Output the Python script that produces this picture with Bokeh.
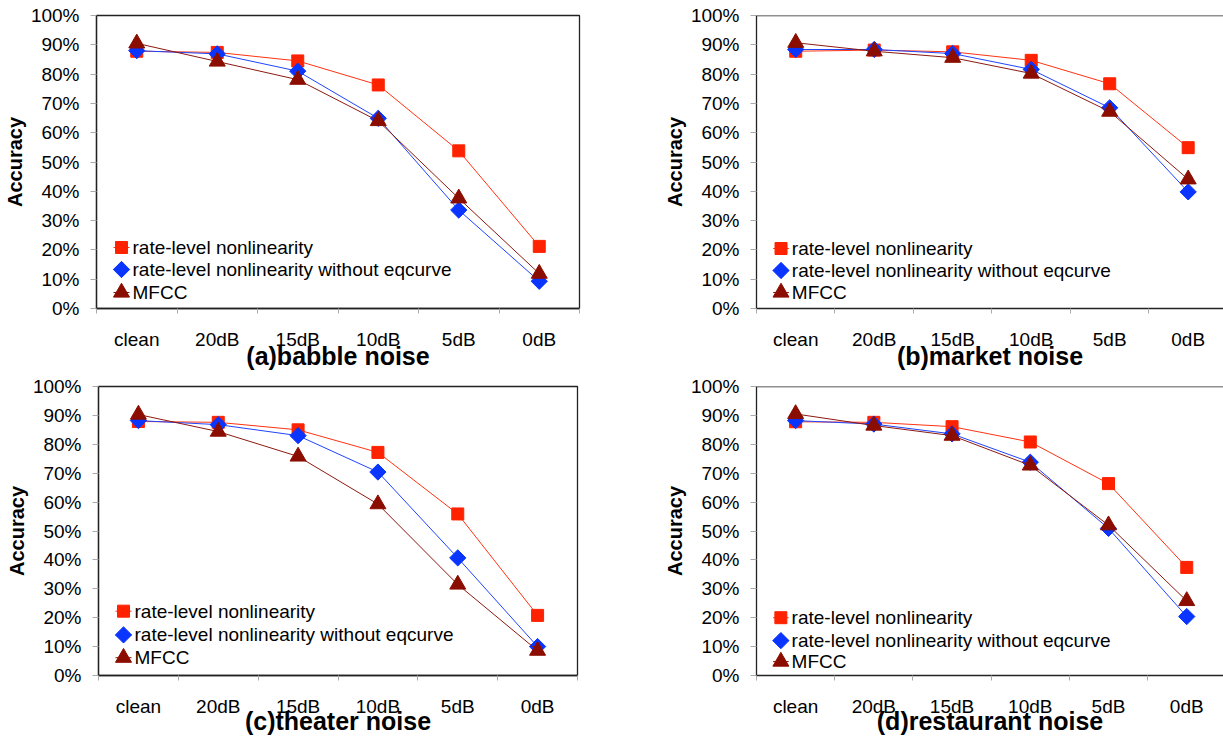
import numpy as np
from bokeh.plotting import figure
from bokeh.layouts import column, row
from bokeh.models import Range1d, FixedTicker, CustomJSTickFormatter, PrintfTickFormatter, Span
from bokeh.core.properties import value
from bokeh.embed import file_html
from bokeh.resources import INLINE

# ---- data (recognition accuracy, %) ----
conditions = ["clean", "20dB", "15dB", "10dB", "5dB", "0dB"]
series_names = ["rate-level nonlinearity",
                "rate-level nonlinearity without eqcurve",
                "MFCC"]
y_ticks = list(range(0, 101, 10))

babble_rln = [87.8, 87.4, 84.5, 76.3, 53.8, 21.2]
babble_noeq = [88.0, 86.9, 81.0, 64.9, 33.6, 9.3]
babble_mfcc = [90.5, 84.3, 78.1, 64.0, 37.6, 11.9]

market_rln = [87.8, 88.2, 87.6, 84.7, 76.7, 54.9]
market_noeq = [88.4, 88.4, 87.0, 81.6, 68.5, 39.8]
market_mfcc = [90.7, 87.8, 85.6, 80.2, 67.2, 44.1]

theater_rln = [87.9, 87.6, 85.0, 77.2, 55.9, 20.8]
theater_noeq = [88.2, 86.8, 83.0, 70.4, 40.7, 10.0]
theater_mfcc = [90.3, 84.4, 75.8, 59.3, 31.5, 8.6]

restaurant_rln = [87.8, 87.6, 86.1, 80.8, 66.4, 37.4]
restaurant_noeq = [88.2, 87.0, 83.6, 73.8, 50.9, 20.4]
restaurant_mfcc = [90.5, 86.5, 83.0, 72.7, 52.0, 25.8]

titles = ["(a)babble noise", "(b)market noise", "(c)theater noise", "(d)restaurant noise"]
panel_data = [
    [babble_rln, babble_noeq, babble_mfcc],
    [market_rln, market_noeq, market_mfcc],
    [theater_rln, theater_noeq, theater_mfcc],
    [restaurant_rln, restaurant_noeq, restaurant_mfcc],
]

# ---- styling ----
FONT = "Liberation Sans"
TEXT_SIZE = "19px"
LINE_COLORS = ["#ff3311", "#1f45ff", "#8b1a10"]
FILL_COLORS = ["#ff2200", "#0a35ff", "#8b0d00"]
MARKERS = [dict(marker="square", size=12, angle=0.0),
           dict(marker="square", size=11.5, angle=np.pi / 4),
           dict(marker="triangle", size=16, angle=0.0)]

# per panel: width, height, borders (l, r, t, b), visible x extent,
# legend rows (px above the frame bottom) and caption standoff
geometry = [
    dict(w=660, h=372, l=96, r=81, t=15, b=64, x_end=6.0, rows=[61, 39, 16], cap=-11),
    dict(w=563, h=372, l=87, r=0, t=15, b=64, x_end=5.95, rows=[60, 38, 16], cap=-11),
    dict(w=660, h=366, l=98, r=83, t=11, b=63, x_end=6.0, rows=[65, 41, 18], cap=-13),
    dict(w=563, h=366, l=84, r=0, t=14, b=62, x_end=5.97, rows=[58, 35, 14], cap=-13),
]

xs = [i + 0.5 for i in range(len(conditions))]


def make_panel(title, data, g, closed_right):
    fw = g["w"] - g["l"] - g["r"]
    fh = g["h"] - g["t"] - g["b"]
    px_x = fw / g["x_end"]      # pixels per category
    px_y = fh / 100.0           # pixels per percent

    p = figure(width=g["w"], height=g["h"], output_backend="svg", toolbar_location=None,
               x_range=Range1d(0, g["x_end"]), y_range=Range1d(0, 100),
               min_border_left=g["l"], min_border_right=g["r"],
               min_border_top=g["t"], min_border_bottom=g["b"],
               background_fill_color="white", border_fill_color="white")
    p.grid.visible = False
    if closed_right:
        p.outline_line_color = "#222222"
        p.outline_line_width = 1.3
    else:
        p.outline_line_color = None
        p.add_layout(Span(location=100, dimension="width", line_color="#222222", line_width=1.3))

    # x axis: labels at category centres, ticks on the boundaries, caption as axis label
    bounds = [i for i in range(len(conditions) + 1) if i <= g["x_end"]]
    p.xaxis.ticker = FixedTicker(ticks=xs, minor_ticks=bounds)
    p.xaxis.formatter = CustomJSTickFormatter(args=dict(labels=conditions),
                                              code="return labels[Math.floor(tick)]")
    p.xaxis.major_tick_out = 0
    p.xaxis.major_tick_in = 0
    p.xaxis.minor_tick_out = 5
    p.xaxis.minor_tick_in = 0
    p.xaxis.minor_tick_line_color = "#aaaaaa"
    p.xaxis.axis_line_color = "#222222"
    p.xaxis.axis_line_width = 1.3
    p.xaxis.major_label_standoff = 15
    p.xaxis.major_label_text_font = FONT
    p.xaxis.major_label_text_font_size = TEXT_SIZE
    p.xaxis.major_label_text_color = "black"
    p.xaxis.axis_label = title
    p.xaxis.axis_label_text_font = FONT
    p.xaxis.axis_label_text_font_size = "25px"
    p.xaxis.axis_label_text_font_style = "bold"
    p.xaxis.axis_label_text_color = "black"
    p.xaxis.axis_label_standoff = g["cap"]

    # y axis
    p.yaxis.ticker = FixedTicker(ticks=y_ticks, minor_ticks=[])
    p.yaxis.formatter = PrintfTickFormatter(format="%d%%")
    p.yaxis.major_tick_out = 6
    p.yaxis.major_tick_in = 0
    p.yaxis.major_tick_line_color = "#aaaaaa"
    p.yaxis.minor_tick_line_color = None
    p.yaxis.axis_line_color = "#222222"
    p.yaxis.axis_line_width = 1.3
    p.yaxis.major_label_standoff = 11
    p.yaxis.major_label_text_font = FONT
    p.yaxis.major_label_text_font_size = TEXT_SIZE
    p.yaxis.major_label_text_color = "black"
    p.yaxis.axis_label = "Accuracy"
    p.yaxis.axis_label_text_font = FONT
    p.yaxis.axis_label_text_font_size = "20px"
    p.yaxis.axis_label_text_font_style = "bold"
    p.yaxis.axis_label_text_color = "black"
    p.yaxis.axis_label_standoff = 2

    # series
    for vals, lc, fc, mk in zip(data, LINE_COLORS, FILL_COLORS, MARKERS):
        p.line(xs, vals, line_color=lc, line_width=1)
        p.scatter(xs, vals, marker=mk["marker"], size=mk["size"], angle=mk["angle"],
                  fill_color=fc, line_color=fc, line_width=1)

    # legend inside the frame, lower left
    lx0, lx1, lm, lt = 17 / px_x, 33 / px_x, 25 / px_x, 36 / px_x
    for name, ry, lc, fc, mk in zip(series_names, g["rows"], LINE_COLORS, FILL_COLORS, MARKERS):
        yv = ry / px_y
        p.segment(x0=[lx0], y0=[yv], x1=[lx1], y1=[yv], line_color=lc, line_width=1)
        p.scatter([lm], [yv], marker=mk["marker"], size=mk["size"], angle=mk["angle"],
                  fill_color=fc, line_color=fc)
        p.text(x=[lt], y=[yv], text=[name], text_baseline="middle", text_align="left",
               text_font=value(FONT), text_font_size=value(TEXT_SIZE), text_color="black")
    return p


figs = [make_panel(t, d, g, closed_right=(i % 2 == 0))
        for i, (t, d, g) in enumerate(zip(titles, panel_data, geometry))]

layout = column(row(figs[0], figs[1], spacing=0), row(figs[2], figs[3], spacing=0), spacing=0)

open("out.html", "w").write(file_html(layout, INLINE))
